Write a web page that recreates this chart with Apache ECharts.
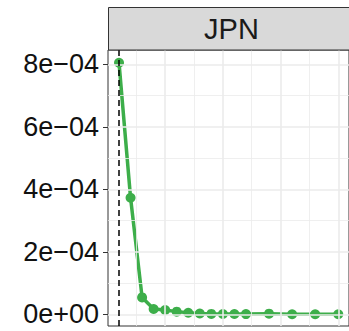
<!DOCTYPE html>
<html>
<head>
<meta charset="utf-8">
<script src="https://cdn.jsdelivr.net/npm/echarts@6/dist/echarts.min.js"></script>
<style>
html,body{margin:0;padding:0;background:#fff;}
#chart{width:349px;height:331px;}
</style>
</head>
<body>
<div id="chart"></div>
<script>
// ---- data ----
const panelTitle = "JPN";
const xValues = [1,2,3,4,5,6,7,8,9,10,11,12,14,16,18,20];
const yValues = [8.05e-4, 3.73e-4, 0.54e-4, 0.17e-4, 0.135e-4, 0.085e-4, 0.05e-4, 0.025e-4,
                 0.012e-4, 0.01e-4, 0.008e-4, 0.007e-4, 0.02e-4, 0.002e-4, 0.002e-4, 0.001e-4];
const vlineX = 1;
const yTickValues = [0, 2e-4, 4e-4, 6e-4, 8e-4];
const yTickLabels = ["0e+00", "2e\u221204", "4e\u221204", "6e\u221204", "8e\u221204"];
const yMinorValues = [1e-4, 3e-4, 5e-4, 7e-4];
const xMajorValues = [5, 10, 15, 20];
const xMinorValues = [2.5, 7.5, 12.5, 17.5];

const X_MIN = 0.045, X_MAX = 20.93, Y_MIN = -0.375e-4, Y_MAX = 8.458e-4;

const chart = echarts.init(document.getElementById('chart'), null, {renderer: 'svg'});

const seriesData = xValues.map((x, i) => [x, yValues[i]]);
function hLine(v, w) { return [{coord: [X_MIN, v], lineStyle: {width: w}}, {coord: [X_MAX, v]}]; }
function vLine(v, w) { return [{coord: [v, Y_MIN], lineStyle: {width: w}}, {coord: [v, Y_MAX]}]; }
const gridLines = [];
yMinorValues.forEach(v => gridLines.push(hLine(v, 0.8)));
xMinorValues.forEach(v => gridLines.push(vLine(v, 0.8)));
yTickValues.forEach(v => gridLines.push(hLine(v, 1.6)));
xMajorValues.forEach(v => gridLines.push(vLine(v, 1.6)));

chart.setOption({
  animation: false,
  backgroundColor: '#ffffff',
  grid: {
    left: 108, right: -6, top: 50, bottom: 5,
    show: true, borderColor: '#333333', borderWidth: 1, backgroundColor: '#ffffff'
  },
  xAxis: {
    type: 'value', min: X_MIN, max: X_MAX,
    axisLine: {show: false}, axisTick: {show: false}, axisLabel: {show: false},
    splitLine: {show: false}
  },
  yAxis: {
    type: 'value', min: Y_MIN, max: Y_MAX,
    axisLine: {show: false},
    axisTick: {show: true, length: 5, customValues: yTickValues,
               lineStyle: {color: '#333333', width: 1}},
    axisLabel: {
      show: true, customValues: yTickValues, margin: 9,
      fontFamily: 'Liberation Sans', fontSize: 27, color: '#111111',
      formatter: function (v) {
        let best = 0;
        yTickValues.forEach((t, i) => { if (Math.abs(t - v) < Math.abs(yTickValues[best] - v)) best = i; });
        return yTickLabels[best];
      }
    },
    splitLine: {show: false}
  },
  graphic: [
    {type: 'rect', shape: {x: 108.5, y: 7.5, width: 260, height: 42.5},
     style: {fill: '#d9d9d9', stroke: '#333333', lineWidth: 1}, z: 10},
    {type: 'text', x: 231.5, y: 29,
     style: {text: panelTitle, fontFamily: 'Liberation Sans', fontSize: 29, fill: '#1a1a1a',
             textAlign: 'center', textVerticalAlign: 'middle'}, z: 11}
  ],
  series: [
    {
      type: 'line', data: seriesData, z: 1, silent: true,
      symbol: 'none', lineStyle: {opacity: 0}, itemStyle: {opacity: 0},
      markLine: {
        silent: true, symbol: ['none', 'none'], label: {show: false},
        lineStyle: {color: '#ebebeb', type: 'solid'},
        data: gridLines
      }
    },
    {
      type: 'line', data: seriesData, z: 2, silent: true,
      symbol: 'none', lineStyle: {opacity: 0}, itemStyle: {opacity: 0},
      markLine: {
        silent: true, symbol: ['none', 'none'], label: {show: false},
        lineStyle: {color: '#000000', type: [6, 4], width: 1.5},
        data: [[{coord: [vlineX, Y_MIN]}, {coord: [vlineX, Y_MAX]}]]
      }
    },
    {
      type: 'line', data: seriesData, z: 3,
      lineStyle: {color: '#3dae4a', width: 3.5},
      itemStyle: {color: '#3dae4a'},
      symbol: 'circle', symbolSize: 10, showAllSymbol: true
    }
  ]
});
</script>
</body>
</html>
